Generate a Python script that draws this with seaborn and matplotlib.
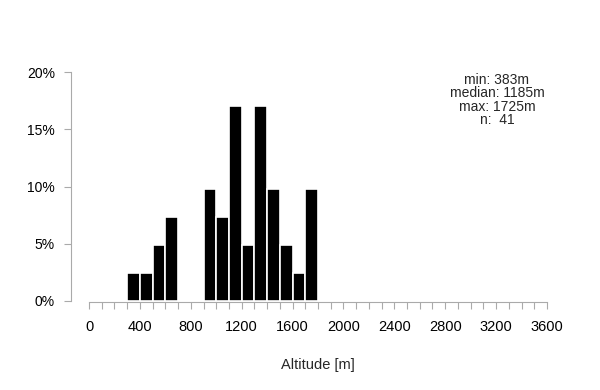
import numpy as np
import pandas as pd
import matplotlib
matplotlib.use("Agg")
import matplotlib.pyplot as plt
from matplotlib.ticker import MultipleLocator, FuncFormatter
import seaborn as sns

# altitude bins (lower edge, m) and number of sites per bin
bin_start = [300, 400, 500, 600, 700, 800, 900, 1000, 1100, 1200, 1300, 1400, 1500, 1600, 1700]
counts = [1, 1, 2, 3, 0, 0, 4, 3, 7, 2, 7, 4, 2, 1, 4]
stats_text = "min: 383m\nmedian: 1185m\nmax: 1725m\nn:  41"

sns.set_style("white")
plt.rcParams['font.family'] = ['Liberation Sans', 'DejaVu Sans']

df = pd.DataFrame({"alt": np.array(bin_start) + 50, "n": counts})

fig = plt.figure(figsize=(6, 3.9), dpi=100)
ax = fig.add_axes([89/600, 1-301/390, (547-89)/600, (301-72)/390])

sns.histplot(data=df, x="alt", weights="n", binwidth=100, binrange=(300, 1800),
             stat="percent", color="black", edgecolor="white", linewidth=1.2,
             alpha=1, ax=ax)

ax.set_xlim(0, 3600)
ax.set_ylim(0, 20)
ax.xaxis.set_major_locator(MultipleLocator(400))
ax.xaxis.set_minor_locator(MultipleLocator(100))
ax.yaxis.set_major_locator(MultipleLocator(5))
ax.yaxis.set_major_formatter(FuncFormatter(lambda v, p: f"{v:.0f}%"))

for s in ["top", "right"]:
    ax.spines[s].set_visible(False)
ax.spines["left"].set_position(("outward", 13))
ax.spines["bottom"].set_position(("outward", 1))
for s in ["left", "bottom"]:
    ax.spines[s].set_color("#aaaaaa")
    ax.spines[s].set_linewidth(0.8)

ax.tick_params(axis="both", which="both", direction="out", length=5, width=0.8,
               color="#aaaaaa", labelcolor="black", bottom=True, left=True)
ax.tick_params(axis="x", pad=8, labelsize=10.5)
ax.tick_params(axis="y", pad=6.5, labelsize=10)

ax.set_xlabel("Altitude [m]", fontsize=10.5, labelpad=17)
ax.set_ylabel("")

fig.text(497/600, 1-73/390, stats_text, ha="center", va="top", fontsize=10,
         linespacing=0.95)

fig.savefig("out.png", dpi=100)
